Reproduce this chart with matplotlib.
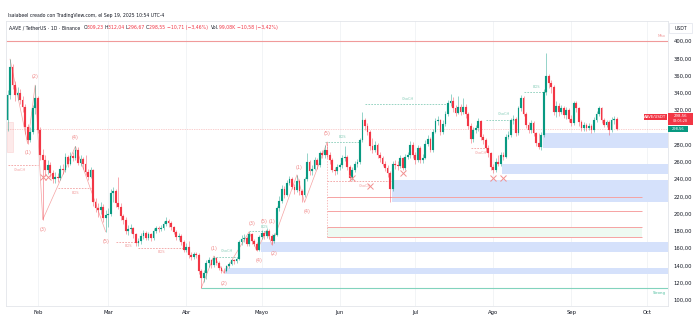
import matplotlib
matplotlib.use("Agg")
import matplotlib.pyplot as plt
import matplotlib.dates as mdates
import numpy as np
import pandas as pd
from matplotlib.patches import Rectangle

# ---------------- data ----------------
first_open = 308.0
close = [337, 370, 349, 338, 340, 332, 323, 300, 285, 295, 322, 334,
         297, 268, 262, 250, 256, 247, 240, 243, 241, 252, 250, 266, 258, 267, 265, 274, 259, 263,
         257, 248, 243, 250, 213, 207, 204, 208, 195, 199,
         200, 224, 226, 212, 208, 197, 193, 180, 182, 183, 176, 166, 168, 174, 178, 172, 176, 172,
         180, 183, 182, 183, 188, 191, 189, 184, 179, 173, 174, 167, 158,
         161, 152, 150, 153, 152, 133, 125, 131, 143, 146, 140, 149, 143, 137, 134, 133, 139, 142,
         146, 145, 147, 167, 171, 172, 165, 176, 168, 165, 158, 173,
         178, 174, 180, 174, 168, 175, 206, 215, 229, 222, 236, 240, 231, 227, 238, 226, 222, 240,
         260, 249, 252, 262, 256, 270, 268, 274, 268, 262, 251, 249, 254,
         256, 264, 266, 254, 241, 251, 258, 260, 285, 308, 301, 295, 278, 274, 280, 268, 264, 258,
         253, 247, 229, 258, 256, 255, 264, 253, 266, 268, 280, 268,
         262, 276, 262, 265, 281, 287, 274, 295, 307, 308, 295, 304, 316, 328, 330, 322, 317, 324,
         318, 324, 316, 302, 286, 297, 299, 307, 289, 285, 276, 270, 254,
         251, 260, 258, 268, 266, 289, 291, 308, 310, 293, 322, 334, 316, 303, 297, 305, 293, 282,
         277, 291, 341, 359, 351, 347, 318, 325, 318, 322, 314, 320, 310,
         305, 328, 322, 306, 299, 303, 299, 302, 297, 309, 316, 322, 309, 303, 306, 297, 308,
         309.23, 298.55]
high = [343, 379, 373, 354, 347, 344, 336, 327, 304, 300, 326, 349,
        336, 300, 275, 268, 262, 260, 251, 248, 247, 256, 257, 270, 268, 271, 272, 278, 277, 268,
        266, 268, 252, 254, 252, 218, 212, 213, 211, 204,
        206, 228, 231, 228, 243, 212, 200, 196, 187, 188, 185, 178, 172, 177, 181, 180, 179, 178,
        183, 186, 186, 187, 192, 196, 194, 191, 186, 181, 177, 176, 169,
        166, 168, 155, 156, 155, 154, 136, 135, 146, 150, 147, 151, 150, 145, 139, 137, 141, 144,
        148, 148, 150, 170, 175, 176, 174, 179, 178, 171, 167, 175,
        181, 180, 183, 182, 176, 178, 209, 220, 233, 232, 239, 244, 242, 234, 245, 240, 229, 243,
        270, 262, 256, 266, 264, 273, 274, 280, 283, 271, 264, 254, 257,
        259, 268, 278, 268, 256, 254, 261, 263, 288, 318, 311, 305, 297, 288, 284, 282, 271, 267,
        261, 256, 249, 261, 262, 261, 268, 266, 269, 272, 284, 283,
        271, 279, 278, 269, 285, 291, 289, 298, 311, 313, 310, 308, 319, 332, 339, 335, 326, 336,
        327, 334, 327, 318, 305, 300, 303, 311, 309, 292, 288, 279, 272,
        257, 264, 268, 271, 272, 292, 296, 311, 314, 312, 325, 338, 336, 318, 306, 308, 307, 295,
        293, 295, 344, 386, 362, 355, 349, 330, 328, 326, 325, 323, 322,
        314, 331, 330, 324, 309, 306, 305, 305, 304, 312, 319, 325, 324, 311, 309, 308, 312,
        313, 312.04]
low = [296, 333, 344, 330, 332, 327, 318, 292, 281, 283, 292, 316,
       293, 262, 193, 244, 246, 243, 236, 236, 237, 239, 246, 248, 254, 256, 261, 262, 256, 255,
       252, 245, 239, 241, 209, 202, 196, 200, 190, 179,
       185, 197, 214, 208, 205, 193, 188, 176, 175, 177, 172, 162, 163, 165, 171, 169, 170, 168,
       170, 177, 179, 180, 181, 186, 185, 181, 176, 170, 170, 164, 155,
       155, 149, 146, 148, 149, 130, 114, 121, 124, 138, 137, 138, 140, 135, 131, 131, 132, 137,
       140, 142, 143, 146, 164, 167, 162, 163, 165, 162, 157, 157,
       171, 171, 172, 171, 164, 166, 174, 203, 212, 218, 220, 233, 228, 223, 225, 222, 213, 219,
       238, 245, 245, 250, 252, 254, 264, 265, 265, 258, 248, 245, 246,
       250, 253, 261, 251, 238, 239, 248, 254, 258, 283, 297, 291, 274, 270, 271, 265, 260, 255,
       249, 243, 214, 226, 252, 251, 253, 250, 251, 263, 265, 265,
       258, 260, 259, 259, 263, 278, 271, 272, 293, 303, 291, 292, 301, 313, 325, 318, 313, 315,
       314, 315, 311, 298, 282, 283, 294, 296, 285, 281, 272, 266, 250,
       247, 248, 255, 255, 262, 264, 286, 289, 304, 290, 291, 319, 313, 299, 294, 294, 290, 278,
       275, 274, 289, 338, 346, 340, 314, 312, 313, 315, 311, 310, 306,
       301, 303, 318, 302, 296, 296, 296, 297, 294, 295, 306, 313, 305, 300, 300, 291, 295,
       304, 296.67]
start_date = "2025-01-20"

month_ticks = ["2025-02-01", "2025-03-01", "2025-04-01", "2025-05-01", "2025-06-01",
               "2025-07-01", "2025-08-01", "2025-09-01", "2025-10-01"]
month_labels = ["Feb", "Mar", "Abr", "Mayo", "Jun", "Jul", "Ago", "Sep", "Oct"]
price_ticks = list(range(100, 401, 20))
hidden_tick = 300  # covered by the last-price labels

# order-block zones: (start date, bottom, top)
ob_zones = [("2025-04-17", 130, 137.4), ("2025-05-01", 156, 166.8),
            ("2025-06-22", 213, 239), ("2025-08-05", 245.6, 257.5),
            ("2025-08-21", 276.4, 293)]
# target lines (prices) between two dates
target_start, target_end = "2025-05-27", "2025-09-29"
target_levels = [219, 203.4, 185, 173.3]
weak_high = 399.5
strong_low = 114
strong_low_start = "2025-04-07"
last_price = 298.55

# structure lines: (start, end, price, colour-key, label, label date, label price)
structure = [("2025-01-20", "2025-02-01", 256, "r", "ChoCH", "2025-01-25", 250.5),
             ("2025-02-09", "2025-02-22", 230, "r", "BOS", "2025-02-16", 224),
             ("2025-03-04", "2025-03-13", 167.5, "r", "BOS", "2025-03-09", 162.5),
             ("2025-03-13", "2025-03-31", 160.6, "r", "BOS", "2025-03-22", 155),
             ("2025-04-13", "2025-04-21", 150, "g", "ChoCH", "2025-04-17", 156.5),
             ("2025-04-26", "2025-05-04", 179.5, "g", "BOS", "2025-05-02", 185),
             ("2025-05-26", "2025-06-09", 283.3, "g", "BOS", "2025-06-02", 289),
             ("2025-05-27", "2025-06-22", 237.8, "r", "ChoCH", "2025-06-11", 232),
             ("2025-06-11", "2025-07-14", 327.5, "g", "ChoCH", "2025-06-28", 333),
             ("2025-07-23", "2025-07-30", 276.4, "r", "ChoCH", "2025-07-27", 270.5),
             ("2025-07-29", "2025-08-10", 308.5, "g", "ChoCH", "2025-08-05", 315),
             ("2025-08-13", "2025-08-22", 340.6, "g", "BOS", "2025-08-18", 347)]
x_marks = [("2025-02-03", 242.8), ("2025-02-05", 242.8), ("2025-06-06", 241),
           ("2025-06-13", 232), ("2025-06-26", 246.8), ("2025-08-01", 241.6),
           ("2025-08-05", 241.6)]
wave_a = [("2025-01-21", 379), ("2025-01-28", 281), ("2025-01-31", 349),
          ("2025-02-03", 193), ("2025-02-16", 278), ("2025-02-28", 179)]
wave_b = [("2025-04-07", 114), ("2025-04-12", 151), ("2025-04-16", 131),
          ("2025-04-26", 179), ("2025-04-29", 157), ("2025-05-03", 181),
          ("2025-05-05", 164), ("2025-05-15", 245), ("2025-05-18", 213),
          ("2025-05-27", 283)]
wave_labels = [("(1)", "2025-01-28", 270.6), ("(2)", "2025-01-31", 358.6),
               ("(3)", "2025-02-03", 182.2), ("(4)", "2025-02-16", 288),
               ("(5)", "2025-02-28", 167.5),
               ("(1)", "2025-04-12", 159.8), ("(2)", "2025-04-16", 119.3),
               ("(3)", "2025-04-27", 188.8), ("(4)", "2025-04-30", 145.5),
               ("(5)", "2025-05-02", 190.6), ("(1)", "2025-05-05", 190.6),
               ("(2)", "2025-05-06", 153.3), ("(1)", "2025-05-16", 253.7),
               ("(4)", "2025-05-19", 202), ("(5)", "2025-05-27", 292.3)]

# ---------------- figure ----------------
W, H = 695, 324
fig = plt.figure(figsize=(W / 100, H / 100), dpi=100)
fig.patch.set_facecolor("white")
L, R, T, B = 6, 668, 21, 306
ax = fig.add_axes([L / W, 1 - B / H, (R - L) / W, (B - T) / H])
FONT = "DejaVu Sans"
plt.rcParams["font.family"] = FONT

dates = pd.date_range(start_date, periods=len(close), freq="D")
xd = mdates.date2num(dates)
opens = [first_open] + close[:-1]
UP, DN = "#089981", "#f23645"
cols = [UP if c >= o else DN for o, c in zip(opens, close)]

d = lambda s: mdates.date2num(pd.Timestamp(s))
x0 = xd[0] - 0.6
x1 = xd[0] + 262.4
ax.set_xlim(x0, x1)
ax.set_ylim(93.0, 423.2)

# grid
for t in month_ticks:
    ax.axvline(d(t), color="#f0f2f5", lw=0.6, zorder=0)

# zones
for s, b, t in ob_zones:
    ax.add_patch(Rectangle((d(s) - 0.4, b), x1 - d(s) + 0.4, t - b,
                           facecolor="#d5e1fb", edgecolor="none", zorder=1))
ax.add_patch(Rectangle((x0 + 0.3, 271.8), 2.6, 306.5 - 271.8,
                       facecolor="#fdeaea", edgecolor="#fbd3d3", lw=0.4, zorder=1))
ax.add_patch(Rectangle((d(target_start), 173.3), d(target_end) - d(target_start), 185 - 173.3,
                       facecolor="#eefaf2", edgecolor="none", zorder=1))
for lv in target_levels:
    ax.hlines(lv, d(target_start), d(target_end), color="#f6a3a3", lw=0.7, zorder=2)
ax.vlines(d(target_start), 173.3, 283.3, color="#f6a3a3", lw=0.5,
          linestyles=(0, (2, 2)), zorder=2)

ax.hlines(weak_high, x0, x1, color="#f09a9a", lw=0.8, zorder=2)
ax.hlines(strong_low, d(strong_low_start), x1, color="#82d3bd", lw=0.8, zorder=2)
ax.hlines(last_price, x0, x1, color="#f5a0a0", lw=0.5, linestyles=(0, (1, 1.5)), zorder=2)

# structure lines
for s, e, p, c, lab, ld, lp in structure:
    col = "#f2a0a0" if c == "r" else "#88cdb9"
    ax.hlines(p, d(s), d(e), color=col, lw=0.6, linestyles=(0, (2, 1.5)), zorder=3)
    ax.text(d(ld), lp, lab, color=col, fontsize=2.6, ha="center", va="center", zorder=3)

# zigzags
for wv in (wave_a, wave_b):
    ax.plot([d(a) for a, _ in wv], [p for _, p in wv], color="#f5a3a3", lw=0.5, zorder=3)
for lab, ld, lp in wave_labels:
    ax.text(d(ld), lp, lab, color="#f08888", fontsize=3.6, ha="center", va="center", zorder=5)
for ld, lp in x_marks:
    ax.plot(d(ld), lp, marker="x", ms=4.5, mew=0.7, color="#f29191", zorder=5)

# candles
bh = [max(abs(c - o), 0.4) for o, c in zip(opens, close)]
bb = [min(o, c) for o, c in zip(opens, close)]
ax.vlines(xd, low, high, colors=cols, lw=0.5, alpha=0.6, zorder=4)
ax.bar(xd, bh, bottom=bb, width=0.7, color=cols, edgecolor=cols, lw=0.1, zorder=4)

# axes styling
for sp in ax.spines.values():
    sp.set_color("#e3e5ea")
    sp.set_linewidth(0.6)
ax.yaxis.tick_right()
ax.set_yticks(price_ticks)
ax.set_yticklabels(["" if v == hidden_tick else f"{v:.2f}".replace(".", ",")
                    for v in price_ticks])
ax.set_xticks([d(t) for t in month_ticks])
ax.set_xticklabels(month_labels)
ax.tick_params(axis="both", length=0, labelsize=3.8, colors="#131722", pad=3)
ax.tick_params(axis="y", pad=4)

# level labels
ax.text(x1 - 1, weak_high + 4, "Máx", color="#f09a9a", fontsize=2.8, ha="right", va="bottom")
ax.text(x1 - 1, strong_low - 4, "Strong", color="#4fbf9f", fontsize=2.8, ha="right", va="top")

# ---------- header & right-side labels (pixel placed) ----------
def fx(px):
    return px / W

def fy(py):
    return 1 - py / H

fig.text(fx(8), fy(15), "Isaiabeel creado con TradingView.com, el Sep 19, 2025 10:54 UTC-4",
         fontsize=3.3, color="#131722", va="center")
parts = [("AAVE / TetherUS · 1D · Binance  ", "#131722"), ("O", "#131722"), ("309,23 ", DN),
         ("H", "#131722"), ("312,04 ", DN), ("L", "#131722"), ("296,67 ", DN),
         ("C", "#131722"), ("298,55 ", DN), ("−10,71 (−3,46%)  ", DN),
         ("Vol.", "#131722"), ("99,08K ", DN), ("−10,58 (−3,42%)", DN)]
r = fig.canvas.get_renderer()
xp = 9
for txt, col in parts:
    tt = fig.text(fx(xp), fy(27.5), txt, fontsize=3.3, color=col, va="center")
    bb_ = tt.get_window_extent(renderer=r)
    xp += bb_.width

fig.patches.append(Rectangle((fx(669), fy(33)), fx(23), 10 / H, transform=fig.transFigure,
                             facecolor="white", edgecolor="#e0e3eb", lw=0.5))
fig.text(fx(680.5), fy(28), "USDT", fontsize=3.3, color="#131722", ha="center", va="center")

fig.patches.append(Rectangle((fx(644), fy(120)), fx(23), 6.5 / H, transform=fig.transFigure,
                             facecolor=DN, edgecolor="none"))
fig.text(fx(655.5), fy(116.8), "AAVE/USDT", fontsize=2.8, color="white", ha="center", va="center")
fig.patches.append(Rectangle((fx(668), fy(124.5)), fx(25), 11.5 / H, transform=fig.transFigure,
                             facecolor=DN, edgecolor="none"))
fig.text(fx(680.5), fy(115.8), "298,56", fontsize=2.8, color="white", ha="center", va="center")
fig.text(fx(680.5), fy(121.2), "03:05:28", fontsize=2.4, color="white", ha="center", va="center")
fig.patches.append(Rectangle((fx(668), fy(132)), fx(19.5), 6 / H, transform=fig.transFigure,
                             facecolor=UP, edgecolor="none"))
fig.text(fx(677.8), fy(129.2), "298,56", fontsize=2.6, color="white", ha="center", va="center")

fig.savefig("out.png", dpi=100, facecolor="white")
